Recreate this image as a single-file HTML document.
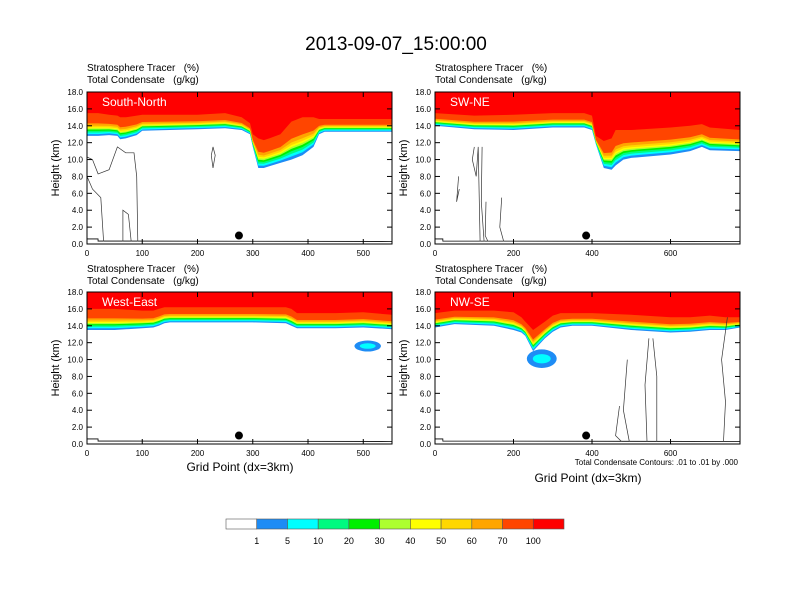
<!DOCTYPE html>
<html><head><meta charset="utf-8">
<style>
html,body{margin:0;padding:0;background:#fff;}
svg{display:block;font-family:"Liberation Sans",sans-serif;}
</style></head>
<body>
<svg id="c" width="792" height="612" viewBox="0 0 792 612" xmlns="http://www.w3.org/2000/svg">
<text x="396" y="50" font-size="19" text-anchor="middle">2013-09-07_15:00:00</text>
</svg>
<script>
// ---- data ----
const levelLabels = ["1","5","10","20","30","40","50","60","70","100"];
const levelColors = ["#ffffff","#1e8cf5","#00ffff","#00fa80","#00f000","#adff2f","#ffff00","#ffd700","#ffa500","#ff4500","#ff0000"];
const layerFrac = [0,0.08,0.15,0.22,0.28,0.33,0.38,0.45,0.55];

const tlX = [0,20,40,55,60,70,90,100,150,200,250,280,295,300,310,320,330,350,370,390,410,420,430,480,552];
const tlBase = [12.8,12.8,12.9,12.8,12.4,12.5,12.9,13.4,13.5,13.6,13.7,13.5,13.0,11.5,9.0,9.0,9.2,9.6,10.0,10.5,11.5,13.0,13.3,13.3,13.3];
const tlRed = [15.5,15.5,15.3,15.2,15.0,15.0,15.2,15.3,15.3,15.3,15.5,15.0,14.3,13.0,12.5,12.3,12.5,13.0,14.5,15.0,15.0,14.8,14.8,14.8,14.8];

const trX = [0,100,200,300,380,400,410,430,450,460,480,500,600,650,680,700,777];
const trBase = [14.0,13.6,13.5,13.8,13.8,13.5,11.8,9.0,8.8,9.3,10.0,10.2,10.6,11.0,11.5,11.1,11.0];
const trRed = [15.5,15.2,15.3,15.5,15.5,15.2,12.8,12.2,12.5,13.5,13.5,13.5,13.8,14.0,14.2,13.8,13.5];

const blX = [0,50,100,120,130,140,150,200,300,360,370,380,400,450,500,552];
const blBase = [13.5,13.5,13.7,13.8,14.0,14.3,14.4,14.4,14.4,14.3,14.0,13.7,13.7,13.7,13.8,13.6];
const blRed = [16.0,16.0,15.8,15.8,16.0,16.2,16.2,16.2,16.2,16.2,16.0,15.5,15.5,15.5,15.6,15.3];

const brX = [0,50,150,200,220,230,250,280,300,320,350,400,500,600,650,700,740,777];
const brBase = [13.8,14.2,14.0,13.5,13.2,12.8,11.0,12.5,13.3,13.8,14.0,14.0,13.5,13.2,13.3,13.5,13.5,13.8];
const brRed = [15.5,15.8,15.8,15.6,15.0,14.5,13.5,14.5,15.2,15.5,15.5,15.5,15.3,15.0,15.0,15.2,15.0,15.0];

// blobs: [cx, cy(km), rx(grid), ry(km)]
const blBlob = [[508,11.6,24,0.65]];
const brBlob = [[272,10.1,38,1.1]];

// contour polylines: [x,h,...]
const tlContours = [[0,10.3,10,10,20,8.3,40,8.8,55,11.5,70,10.8,85,10.8,90,8,92,0.3],[0,8,10,6.5,25,5.5,30,0.3],[65,0.3,65,4,75,3.5,80,0.3],[225,10.5,228,9,232,10.5,228,11.5,225,10.5]];
const trContours = [[100,11.5,95,10,105,8,110,11.5,115,0.3],[120,11.5,118,5,125,0.3],[60,8,55,5,62,6.5],[170,5.5,165,2,175,0.3],[130,5,128,1,135,0.3]];
const blContours = [];
const brContours = [[490,10,480,4,495,0.3],[545,12.5,535,7,540,0.3],[555,12.5,565,8,565,0.3],[470,4.5,460,1,475,0.3],[745,15,730,10,740,5,735,0.3]];

const xTicksTL = [0,100,200,300,400,500];
const xTicksTR = [0,200,400,600];
const yTicks = [0,2,4,6,8,10,12,14,16,18];
const dotX = [275,385,275,385];

// ---- drawing ----
const NS="http://www.w3.org/2000/svg";
const svg=document.getElementById('c');
function mk(tag,attrs,parent){const e=document.createElementNS(NS,tag);for(const k in attrs)e.setAttribute(k,attrs[k]);(parent||svg).appendChild(e);return e;}

const panels=[
 {name:"south-north",label:"South-North",x0:87,y0:92,xmax:552,xs:tlX,base:tlBase,red:tlRed,blobs:[],cont:tlContours,ticks:xTicksTL,dot:dotX[0],hy:67},
 {name:"sw-ne",label:"SW-NE",x0:435,y0:92,xmax:777,xs:trX,base:trBase,red:trRed,blobs:[],cont:trContours,ticks:xTicksTR,dot:dotX[1],hy:67},
 {name:"west-east",label:"West-East",x0:87,y0:292,xmax:552,xs:blX,base:blBase,red:blRed,blobs:blBlob,cont:blContours,ticks:xTicksTL,dot:dotX[2],hy:268},
 {name:"nw-se",label:"NW-SE",x0:435,y0:292,xmax:777,xs:brX,base:brBase,red:brRed,blobs:brBlob,cont:brContours,ticks:xTicksTR,dot:dotX[3],hy:268}
];
const W=305,H=152;

panels.forEach(p=>{
 const g=mk('g',{});
 
 
 const sx=v=>p.x0+v/p.xmax*W;
 const sy=h=>p.y0+H-h/18*H;
 const t1=mk('text',{x:p.x0,y:p.hy+4,'font-size':10},g);t1.textContent="Stratosphere Tracer   (%)";
 t1.style.whiteSpace='pre';
 const t2=mk('text',{x:p.x0,y:p.hy+16,'font-size':10},g);t2.textContent="Total Condensate   (g/kg)";
 t2.style.whiteSpace='pre';
 // layers: lowest first, higher drawn on top
 for(let li=0;li<=layerFrac.length;li++){
  let pts=[];
  p.xs.forEach((x,i)=>{const b=p.base[i],r=p.red[i];const h=li<layerFrac.length?b+(r-b)*layerFrac[li]:r;pts.push(sx(x).toFixed(1)+","+sy(h).toFixed(1));});
  pts.push(sx(p.xmax)+","+sy(18));pts.push(sx(0)+","+sy(18));
  const poly=mk('polygon',{points:pts.join(" "),fill:levelColors[li+1]},g);
  
  
 }
 p.blobs.forEach(b=>{
  const e1=mk('ellipse',{cx:sx(b[0]),cy:sy(b[1]),rx:b[2]/p.xmax*W,ry:b[3]/18*H,fill:levelColors[1]},g);
  
  const e2=mk('ellipse',{cx:sx(b[0]),cy:sy(b[1]),rx:b[2]/p.xmax*W*0.6,ry:b[3]/18*H*0.5,fill:levelColors[2]},g);
  
 });
 const tr=mk('polyline',{points:`${sx(0)},${sy(0.6)} ${sx(20)},${sy(0.6)} ${sx(20)},${sy(0.35)} ${sx(p.xmax)},${sy(0.3)}`,fill:'none',stroke:'#000','stroke-width':0.8},g);
 
 p.cont.forEach(c=>{
  let pts=[];for(let i=0;i<c.length;i+=2)pts.push(sx(c[i]).toFixed(1)+","+sy(c[i+1]).toFixed(1));
  const pl=mk('polyline',{points:pts.join(" "),fill:'none',stroke:'#333','stroke-width':0.7},g);
  
 });
 const d=mk('circle',{cx:sx(p.dot),cy:sy(1),r:4,fill:'#000'},g);
 
 const fr=mk('rect',{x:p.x0,y:p.y0,width:W,height:H,fill:'none',stroke:'#000','stroke-width':1},g);
 
 const lb=mk('text',{x:p.x0+15,y:p.y0+14,'font-size':12,fill:'#fff'},g);lb.textContent=p.label;
 
 yTicks.forEach(v=>{
  const y=sy(v);
  mk('line',{x1:p.x0,x2:p.x0+5,y1:y,y2:y,stroke:'#000'},g);
  mk('line',{x1:p.x0+W-5,x2:p.x0+W,y1:y,y2:y,stroke:'#000'},g);
  const t=mk('text',{x:p.x0-4,y:y+3,'font-size':8,'text-anchor':'end'},g);t.textContent=v.toFixed(1);
  
 });
 p.ticks.forEach(v=>{
  const x=sx(v);
  mk('line',{x1:x,x2:x,y1:p.y0+H,y2:p.y0+H-5,stroke:'#000'},g);
  mk('line',{x1:x,x2:x,y1:p.y0,y2:p.y0+5,stroke:'#000'},g);
  const t=mk('text',{x:x,y:p.y0+H+12,'font-size':8,'text-anchor':'middle'},g);t.textContent=v;
  
 });
 const yl=mk('text',{x:0,y:0,'font-size':11,'text-anchor':'middle',transform:`translate(${p.x0-28},${p.y0+H/2}) rotate(-90)`},g);yl.textContent="Height (km)";
 
});

[[240,471],[588,482]].forEach(a=>{
 const t=mk('text',{x:a[0],y:a[1],'font-size':12,'text-anchor':'middle'});t.textContent="Grid Point (dx=3km)";
 
});
const note=mk('text',{x:738,y:465,'font-size':8,'text-anchor':'end'});note.textContent="Total Condensate Contours: .01 to .01 by .000";


const cb=mk('g',{});

const cbx=226,cbw=338,cby=519,cbh=10,bw=cbw/levelColors.length;
levelColors.forEach((c,i)=>{
 const r=mk('rect',{x:cbx+i*bw,y:cby,width:bw,height:cbh,fill:c,stroke:'#555','stroke-width':0.6},cb);
 
});
levelLabels.forEach((l,i)=>{
 const t=mk('text',{x:cbx+(i+1)*bw,y:544,'font-size':9,'text-anchor':'middle'},cb);t.textContent=l;
 
});
</script>
</body></html>
